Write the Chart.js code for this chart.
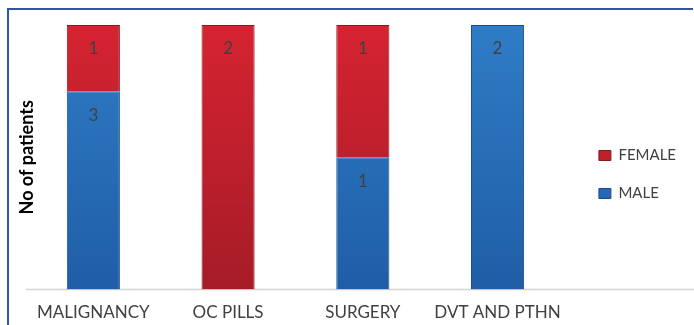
<!DOCTYPE html>
<html>
<head>
<meta charset="utf-8">
<script src="https://cdn.jsdelivr.net/npm/chart.js@4"></script>
<style>
body { margin: 0; background: #fff; }
#wrap { position: relative; width: 694px; height: 325px; overflow: hidden; }
#frame { position: absolute; left: 7px; top: 8px; width: 686px; height: 340px; border-top: 2px solid #2f55a4; border-left: 2px solid #2f55a4; box-sizing: border-box; }
canvas { position: absolute; left: 0; top: 0; }
</style>
</head>
<body>
<div id="wrap"><div id="frame"></div><canvas id="c" width="694" height="325"></canvas></div>
<script>
const categories = ["MALIGNANCY", "OC PILLS", "SURGERY", "DVT AND PTHN"];
const male = [3, 0, 1, 2];
const female = [1, 2, 1, 0];

// bars are stacked to 100%, labels show the counts
const counts = [male, female];
const maleShare = male.map((v, i) => v / (male[i] + female[i]) * 100);
const femaleShare = female.map((v, i) => v / (male[i] + female[i]) * 100);

function grad(top, bottom) {
  return function (ctx) {
    const area = ctx.chart.chartArea;
    if (!area) return bottom;
    const g = ctx.chart.ctx.createLinearGradient(0, area.top, 0, area.bottom);
    g.addColorStop(0, top);
    g.addColorStop(1, bottom);
    return g;
  };
}

const countLabels = {
  id: "countLabels",
  afterDatasetsDraw(chart) {
    const c = chart.ctx;
    c.save();
    c.font = "17px Lato";
    c.fillStyle = "#404040";
    c.textAlign = "center";
    c.textBaseline = "middle";
    chart.data.datasets.forEach((ds, d) => {
      chart.getDatasetMeta(d).data.forEach((bar, i) => {
        const n = counts[d][i];
        if (!n) return;
        c.fillText(n, bar.x, bar.y + 24);
      });
    });
    c.restore();
  }
};

const baseline = {
  id: "baseline",
  beforeDatasetsDraw(chart) {
    const c = chart.ctx;
    const y = chart.scales.y.getPixelForValue(0);
    c.save();
    c.strokeStyle = "#d4d4d4";
    c.lineWidth = 1.5;
    c.beginPath();
    c.moveTo(chart.chartArea.left, y);
    c.lineTo(chart.width, y);
    c.stroke();
    c.restore();
  }
};

// push legend a bit away from the plot, like the original
const legendShift = {
  id: "legendShift",
  afterLayout(chart) {
    const l = chart.legend;
    l.left += 11; l.right += 11;
    l.top -= 6; l.bottom -= 6;
  }
};

new Chart(document.getElementById("c"), {
  type: "bar",
  data: {
    labels: categories,
    datasets: [
      { label: "MALE", data: maleShare, backgroundColor: grad("#2f7cc6", "#1f5ea6"), borderColor: "#1a4f8c", borderWidth: 1 },
      { label: "FEMALE", data: femaleShare, backgroundColor: grad("#d62331", "#a51c27"), borderColor: "#8c1720", borderWidth: 1 }
    ]
  },
  options: {
    responsive: false,
    animation: false,
    barPercentage: 0.394,
    categoryPercentage: 1,
    layout: { padding: { top: 25, left: 16, right: 19, bottom: -11 } },
    plugins: {
      legend: {
        position: "right",
        reverse: true,
        labels: { boxWidth: 12, boxHeight: 10, padding: 23, color: "#404040", font: { family: "Lato", size: 15 } }
      },
      tooltip: { enabled: false }
    },
    scales: {
      x: {
        stacked: true,
        grid: { display: false, drawTicks: false },
        border: { display: false },
        ticks: { padding: 13, color: "#404040", font: { family: "Lato", size: 17 } }
      },
      y: {
        stacked: true,
        min: 0,
        max: 100,
        ticks: { display: false },
        grid: { display: false },
        border: { display: false },
        title: { display: true, text: "No of patients", color: "#000", padding: 0, font: { family: "Lato", size: 18, weight: "bold" } },
        afterFit(s) { s.width = 10; }
      }
    }
  },
  plugins: [countLabels, baseline, legendShift]
});
</script>
</body>
</html>
